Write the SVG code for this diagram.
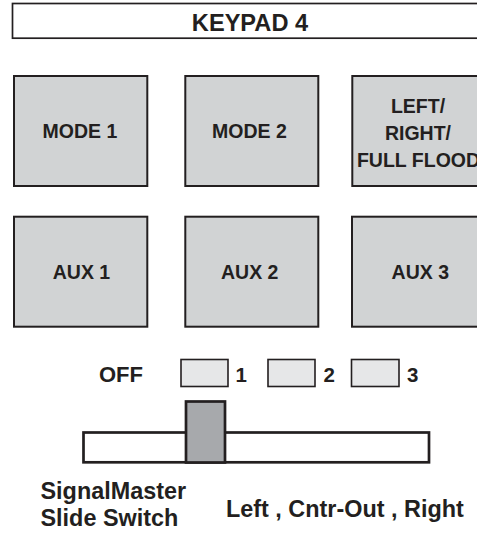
<svg xmlns="http://www.w3.org/2000/svg" width="477" height="533" viewBox="0 0 477 533">
<style>
text{font-family:"Liberation Sans",Arial,Helvetica,sans-serif;font-weight:bold;fill:#231f20;text-anchor:middle}
.key{fill:#d1d3d4;stroke:#231f20;stroke-width:2}
.k{font-size:19.5px}
.pos{fill:#e6e7e8;stroke:#231f20;stroke-width:1.6}
.num{font-size:20.5px;text-anchor:start}
.lbl{font-size:23.4px;text-anchor:start}
</style>
<rect width="477" height="533" fill="#fff"/>
<g id="header">
<rect x="12.5" y="3.5" width="480" height="34.7" fill="#fff" stroke="#231f20" stroke-width="1.7"/>
<text x="250" y="31" style="font-size:23.6px">KEYPAD 4</text>
</g>
<g id="mode1"><rect class="key" x="14" y="76" width="133.3" height="110"/><text class="k" x="80" y="137.7">MODE 1</text></g>
<g id="mode2"><rect class="key" x="185.3" y="76" width="133" height="110"/><text class="k" x="249.5" y="137.7">MODE 2</text></g>
<g id="leftright"><rect class="key" x="352.3" y="76" width="133" height="110"/>
<text class="k" x="418" y="112.7">LEFT/</text><text class="k" x="418" y="140.4">RIGHT/</text><text class="k" x="418.5" y="167.3">FULL FLOOD</text></g>
<g id="aux1"><rect class="key" x="14" y="216.7" width="133.3" height="110"/><text class="k" x="81.5" y="279">AUX 1</text></g>
<g id="aux2"><rect class="key" x="185.3" y="216.7" width="133" height="110"/><text class="k" x="249.7" y="279">AUX 2</text></g>
<g id="aux3"><rect class="key" x="352" y="216.7" width="133" height="110"/><text class="k" x="420.3" y="279">AUX 3</text></g>
<g id="positions">
<text x="99" y="381.5" style="font-size:22px;text-anchor:start">OFF</text>
<rect class="pos" x="181" y="359.5" width="47" height="27"/><text class="num" x="235.5" y="381.5">1</text>
<rect class="pos" x="268" y="359.5" width="47" height="27"/><text class="num" x="323.5" y="381.5">2</text>
<rect class="pos" x="351.5" y="359.5" width="47.5" height="27"/><text class="num" x="407" y="381.5">3</text>
</g>
<g id="slider">
<rect x="83.5" y="432.5" width="345.5" height="29.8" fill="#fff" stroke="#231f20" stroke-width="2.7"/>
<rect x="186" y="401.5" width="39" height="61" fill="#a7a9ac" stroke="#231f20" stroke-width="2.7"/>
</g>
<g id="labels">
<text class="lbl" x="40.5" y="499.3">SignalMaster</text>
<text class="lbl" x="40.5" y="525.5">Slide Switch</text>
<text class="lbl" x="226" y="516.7">Left , Cntr-Out , Right</text>
</g>
<g id="connectors"/>
</svg>
